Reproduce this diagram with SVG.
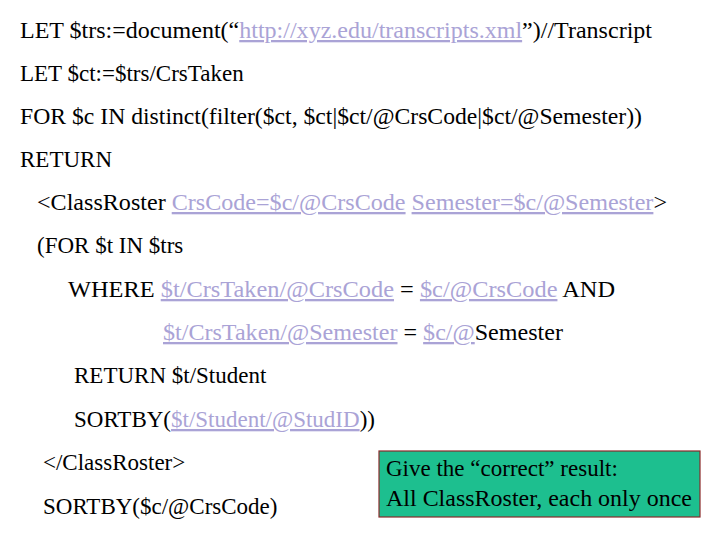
<svg xmlns="http://www.w3.org/2000/svg" width="720" height="540" viewBox="0 0 720 540">
<style>
text{font-family:"Liberation Serif","Times New Roman",serif;font-size:23px;fill:#000}
.l{fill:#aaa3d6;text-decoration:underline}
</style>
<rect width="720" height="540" fill="#fff"/>
<g id="code">
<text x="20" y="38" textLength="632" lengthAdjust="spacingAndGlyphs">LET $trs:=document(“<tspan class="l">http://xyz.edu/transcripts.xml</tspan>”)//Transcript</text>
<text x="20" y="81">LET $ct:=$trs/CrsTaken</text>
<text x="20" y="124" textLength="622" lengthAdjust="spacingAndGlyphs">FOR $c IN  distinct(filter($ct, $ct|$ct/@CrsCode|$ct/@Semester))</text>
<text x="20" y="167">RETURN</text>
<text x="37" y="210" textLength="630" lengthAdjust="spacingAndGlyphs">&lt;ClassRoster <tspan class="l">CrsCode=$c/@CrsCode</tspan> <tspan class="l">Semester=$c/@Semester</tspan>&gt;</text>
<text x="37" y="253">(FOR $t IN $trs</text>
<text x="68" y="297" textLength="547" lengthAdjust="spacingAndGlyphs">WHERE <tspan class="l">$t/CrsTaken/@CrsCode</tspan> =  <tspan class="l">$c/@CrsCode</tspan> AND</text>
<text x="163" y="340" textLength="400" lengthAdjust="spacingAndGlyphs"><tspan class="l">$t/CrsTaken/@Semester</tspan> = <tspan class="l">$c/@</tspan>Semester</text>
<text x="74" y="383">RETURN $t/Student</text>
<text x="74" y="427">SORTBY(<tspan class="l">$t/Student/@StudID</tspan>))</text>
<text x="43" y="470">&lt;/ClassRoster&gt;</text>
<text x="43" y="514">SORTBY($c/@CrsCode)</text>
</g>
<g id="note">
<rect x="379" y="451" width="321" height="66" fill="#1dbf8f" stroke="#8b2a2a" stroke-width="1.2"/>
<text x="386" y="476" font-size="22">Give the “correct” result:</text>
<text x="386" y="506" textLength="306" lengthAdjust="spacingAndGlyphs">All ClassRoster, each only once</text>
</g>
</svg>
